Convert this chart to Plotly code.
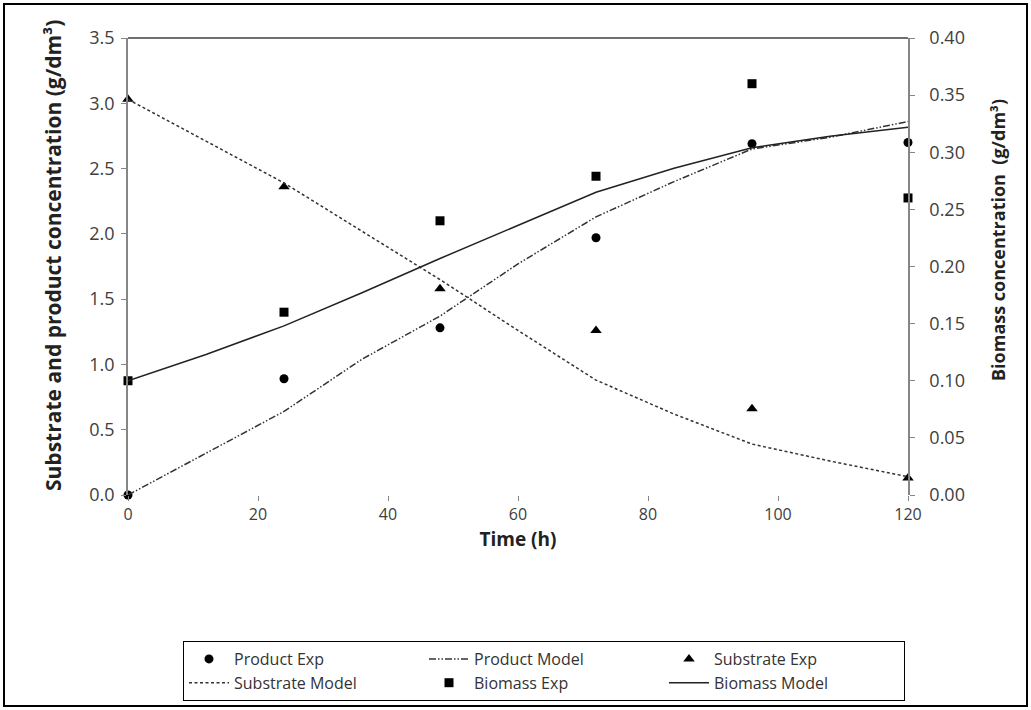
import plotly.graph_objects as go

# ---- data ----
time_exp = [0, 24, 48, 72, 96, 120]
product_exp = [0.0, 0.89, 1.28, 1.97, 2.69, 2.70]
substrate_exp = [3.03, 2.36, 1.58, 1.26, 0.66, 0.13]
biomass_exp = [0.100, 0.160, 0.240, 0.279, 0.360, 0.260]

time_model = [0, 12, 24, 36, 48, 60, 72, 84, 96, 108, 120]
product_model = [0.0, 0.32, 0.64, 1.04, 1.37, 1.77, 2.13, 2.40, 2.65, 2.74, 2.86]
substrate_model = [3.03, 2.71, 2.39, 2.02, 1.65, 1.26, 0.88, 0.62, 0.39, 0.26, 0.14]
biomass_model = [0.100, 0.123, 0.148, 0.177, 0.207, 0.236, 0.265, 0.286, 0.304, 0.314, 0.322]

x_ticks = [0, 20, 40, 60, 80, 100, 120]

FONT = "Open Sans, Noto Sans, sans-serif"
LINE = "#222222"

# plot area in pixels
L, R, T, B = 128, 908, 38, 495
W, H = R - L, B - T


def px(x):
    return (x - L) / W


def py(y):
    return (B - y) / H


fig = go.Figure()
fig.add_trace(go.Scatter(x=time_exp, y=product_exp, mode="markers", name="Product Exp",
                         marker=dict(symbol="circle", size=9, color="black"), cliponaxis=False))
fig.add_trace(go.Scatter(x=time_model, y=product_model, mode="lines", name="Product Model",
                         line=dict(color="#333333", width=1.5, dash="7px,2px,1.5px,2px,1.5px,2px")))
fig.add_trace(go.Scatter(x=time_exp, y=substrate_exp, mode="markers", name="Substrate Exp",
                         marker=dict(symbol="triangle-up", size=10, color="black"), cliponaxis=False))
fig.add_trace(go.Scatter(x=time_model, y=substrate_model, mode="lines", name="Substrate Model",
                         line=dict(color="#333333", width=1.5, dash="3px,2.5px")))
fig.add_trace(go.Scatter(x=time_exp, y=biomass_exp, mode="markers", name="Biomass Exp", yaxis="y2",
                         marker=dict(symbol="square", size=9, color="black"), cliponaxis=False))
fig.add_trace(go.Scatter(x=time_model, y=biomass_model, mode="lines", name="Biomass Model", yaxis="y2",
                         line=dict(color=LINE, width=1.5)))

fig.update_layout(
    width=1031, height=710,
    margin=dict(l=L, r=1031 - R, t=T, b=710 - B, autoexpand=False),
    paper_bgcolor="white", plot_bgcolor="white",
    font=dict(family=FONT, color="#404040"),
    xaxis=dict(range=[0, 120], tickvals=x_ticks, showgrid=False, zeroline=False, showline=False,
               ticks="outside", ticklen=5, tickcolor="#868686",
               tickfont=dict(size=16, color="#404040"),
               title=dict(text="<b>Time (h)</b>", font=dict(size=19, color="#222222"), standoff=8)),
    yaxis=dict(range=[0, 3.5], dtick=0.5, tickformat=".1f", showgrid=False, zeroline=False,
               showline=True, linecolor="#868686", linewidth=1.5,
               ticks="outside", ticklen=5, tickcolor="#868686", ticklabelstandoff=3,
               tickfont=dict(size=18, color="#404040")),
    yaxis2=dict(range=[0, 0.4], dtick=0.05, tickformat=".2f", overlaying="y", side="right",
                showgrid=False, zeroline=False, showline=True, linecolor="#868686", linewidth=1.5,
                ticks="outside", ticklen=5, tickcolor="#868686", ticklabelstandoff=11,
                tickfont=dict(size=18, color="#404040")),
    legend=dict(orientation="h", x=px(183), y=py(641), xanchor="left", yanchor="top",
                entrywidth=185, entrywidthmode="pixels", itemwidth=40,
                bgcolor="white", bordercolor="black", borderwidth=1,
                font=dict(size=16, color="#333333"), tracegroupgap=0),
    showlegend=True,
)

# axis titles as annotations
fig.add_annotation(text="<b>Substrate and product concentration (g/dm³)</b>",
                   xref="paper", yref="paper", x=px(53), y=py(256), textangle=-90,
                   showarrow=False, font=dict(size=21, color="#222222"),
                   xanchor="center", yanchor="middle")
fig.add_annotation(text="<b>Biomass concentration  (g/dm³)</b>",
                   xref="paper", yref="paper", x=px(998), y=py(240), textangle=-90,
                   showarrow=False, font=dict(size=18, color="#222222"),
                   xanchor="center", yanchor="middle")

# top border of plot area
fig.add_shape(type="line", xref="paper", yref="paper", x0=0, x1=1, y0=1, y1=1,
              line=dict(color="#404040", width=1.5))
# outer chart border
fig.add_shape(type="rect", xref="paper", yref="paper",
              x0=px(4), x1=px(1027), y0=py(706), y1=py(4),
              line=dict(color="black", width=2), fillcolor="rgba(0,0,0,0)", layer="below")

fig.write_html("out.html", config={"displayModeBar": False},
               post_script="document.body.style.margin='0';document.body.style.overflow='hidden';")
